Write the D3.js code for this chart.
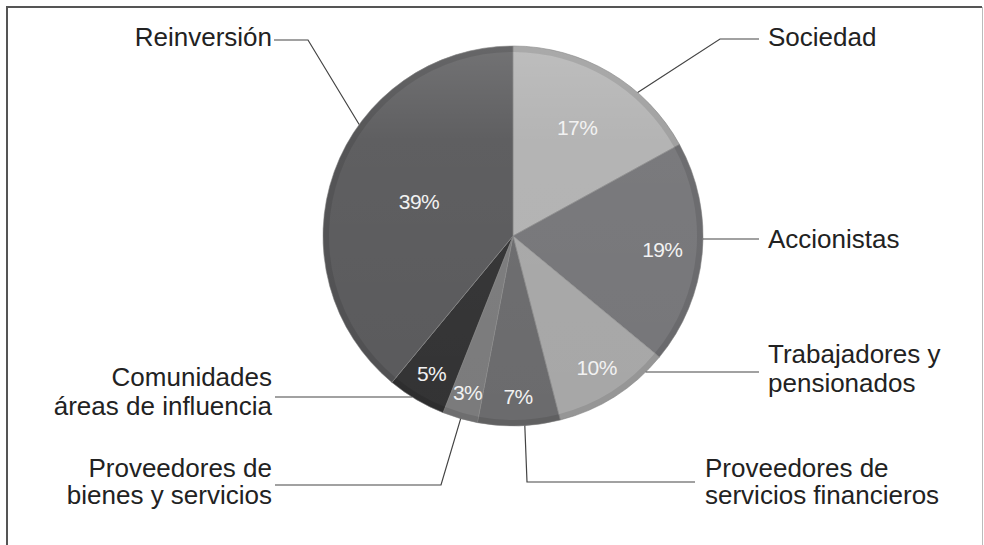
<!DOCTYPE html>
<html>
<head>
<meta charset="utf-8">
<script src="https://cdn.jsdelivr.net/npm/d3@7"></script>
<style>
  body { margin: 0; background: #fff; }
  svg { display: block; }
</style>
</head>
<body>
<svg></svg>
<script>
var width = 984;
var height = 545;

// data
var categories = ["Sociedad", "Accionistas", "Trabajadores y pensionados",
  "Proveedores de servicios financieros", "Proveedores de bienes y servicios",
  "Comunidades áreas de influencia", "Reinversión"];
var shares = [17, 19, 10, 7, 3, 5, 39];
var labelLines = [
  ["Sociedad"],
  ["Accionistas"],
  ["Trabajadores y", "pensionados"],
  ["Proveedores de", "servicios financieros"],
  ["Proveedores de", "bienes y servicios"],
  ["Comunidades", "áreas de influencia"],
  ["Reinversión"]
];
var colors = ["#b2b2b2", "#767679", "#a7a7a7", "#6b6b6d", "#7b7b7c", "#333334", "#5a5a5c"];

// layout
var cx = 513, cy = 236, r = 190;
var pctRadius = [126, 150, 156, 161, 163, 160, 100];
// where the leader line leaves each slice (fraction of the slice), its bends and the text spot
var callouts = [
  {t: 0.67, pts: [[720, 39], [759, 39]], tx: 768, ty: [46], anchor: "start"},
  {t: 0.42, pts: [[759, 239]], tx: 768, ty: [248], anchor: "start", flat: true},
  {t: 0.17, pts: [[759, 372]], tx: 768, ty: [363, 392], anchor: "start", flat: true},
  {t: 0.43, pts: [[527, 482], [695, 482]], tx: 705, ty: [477, 504], anchor: "start"},
  {t: 0.48, pts: [[441, 485], [275, 485]], tx: 272, ty: [477, 504], anchor: "end"},
  {t: 0.58, pts: [[275, 397]], tx: 272, ty: [386, 415], anchor: "end", flat: true},
  {t: 0.615, pts: [[308, 40], [274, 40]], tx: 272, ty: [46], anchor: "end"}
];

var svg = d3.select("svg")
  .attr("width", width)
  .attr("height", height);

// frame
svg.append("path")
  .attr("d", "M7,560 V7 H982")
  .attr("fill", "none")
  .attr("stroke", "#555")
  .attr("stroke-width", 2);
svg.append("line")
  .attr("x1", 982.5).attr("x2", 982.5)
  .attr("y1", 7).attr("y2", height)
  .attr("stroke", "#bbb")
  .attr("stroke-width", 1);

var defs = svg.append("defs");
var shine = defs.append("linearGradient")
  .attr("id", "shine")
  .attr("x1", 0).attr("y1", 0).attr("x2", 0).attr("y2", 1);
shine.append("stop").attr("offset", "0%").attr("stop-color", "#fff").attr("stop-opacity", 0.15);
shine.append("stop").attr("offset", "25%").attr("stop-color", "#fff").attr("stop-opacity", 0.03);
shine.append("stop").attr("offset", "100%").attr("stop-color", "#fff").attr("stop-opacity", 0);

var pie = d3.pie().sort(null).value(d => d);
var arcs = pie(shares);

var arc = d3.arc().innerRadius(0).outerRadius(r);
var rim = d3.arc().innerRadius(r - 6).outerRadius(r);

var g = svg.append("g")
  .attr("transform", "translate(" + cx + "," + cy + ")");

g.selectAll("path.slice")
  .data(arcs)
  .enter()
  .append("path")
    .attr("class", "slice")
    .attr("d", arc)
    .attr("fill", (d, i) => colors[i])
    .attr("stroke", "#8a8a8a")
    .attr("stroke-width", 0.6);

// soft highlight on top and darker rim, like the original 3d look
g.append("circle")
  .attr("r", r)
  .attr("fill", "url(#shine)");

g.selectAll("path.rim")
  .data(arcs)
  .enter()
  .append("path")
    .attr("class", "rim")
    .attr("d", rim)
    .attr("fill", "#000")
    .attr("opacity", 0.1);

// percent labels
g.selectAll("text.pct")
  .data(arcs)
  .enter()
  .append("text")
    .attr("class", "pct")
    .attr("x", (d, i) => pctRadius[i] * Math.sin((d.startAngle + d.endAngle) / 2))
    .attr("y", (d, i) => -pctRadius[i] * Math.cos((d.startAngle + d.endAngle) / 2))
    .attr("dy", "0.35em")
    .attr("text-anchor", "middle")
    .attr("font-family", "Liberation Sans, Arial, sans-serif")
    .attr("font-size", 21)
    .attr("letter-spacing", -0.6)
    .attr("fill", "#f2f2f2")
    .text(d => d.value + "%");

// leader lines
var line = d3.line();
svg.selectAll("path.leader")
  .data(arcs)
  .enter()
  .append("path")
    .attr("class", "leader")
    .attr("d", function(d, i) {
      var c = callouts[i];
      var a = d.startAngle + c.t * (d.endAngle - d.startAngle);
      var p0 = [cx + r * Math.sin(a), cy - r * Math.cos(a)];
      if (c.flat) p0[1] = c.pts[0][1];
      return line([p0].concat(c.pts));
    })
    .attr("fill", "none")
    .attr("stroke", "#444")
    .attr("stroke-width", 1.2);

// category labels
svg.selectAll("text.cat")
  .data(categories)
  .enter()
  .append("text")
    .attr("class", "cat")
    .attr("text-anchor", (d, i) => callouts[i].anchor)
    .attr("font-family", "Liberation Sans, Arial, sans-serif")
    .attr("font-size", 26)
    .attr("fill", "#222")
    .each(function(d, i) {
      var t = d3.select(this);
      labelLines[i].forEach(function(s, k) {
        t.append("tspan")
          .attr("x", callouts[i].tx)
          .attr("y", callouts[i].ty[k])
          .text(s);
      });
    });
</script>
</body>
</html>
